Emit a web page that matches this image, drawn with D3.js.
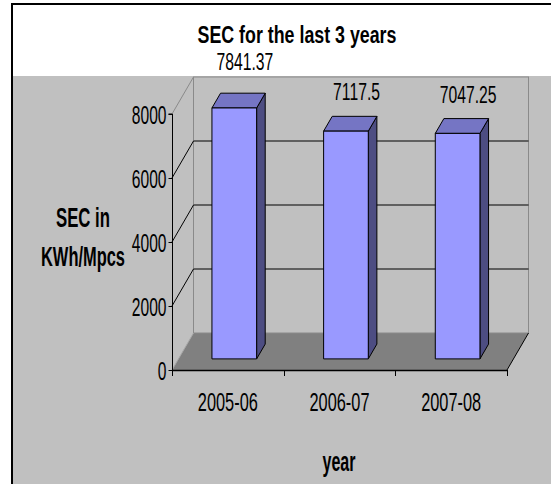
<!DOCTYPE html>
<html>
<head>
<meta charset="utf-8">
<script src="https://cdn.jsdelivr.net/npm/d3@7"></script>
<style>
  html, body { margin: 0; padding: 0; background: #ffffff; }
  svg { display: block; }
  text { font-family: "Liberation Sans", Arial, sans-serif; fill: #000; }
</style>
</head>
<body>
<svg id="chart" width="551" height="484"></svg>
<script>
// Data
const categories = ["2005-06", "2006-07", "2007-08"];
const secValues = [7841.37, 7117.5, 7047.25];
const valueLabels = ["7841.37", "7117.5", "7047.25"];
const yTicks = [0, 2000, 4000, 6000, 8000];
const chartTitle = "SEC for the last 3 years";
const yTitleLines = ["SEC in", "KWh/Mpcs"];
const xTitle = "year";

const svg = d3.select("#chart");

// Pseudo-3D geometry: front plane and a depth vector
const x0 = 172, x1 = 507, yBase = 370;
const DX = 21.5, DY = 37;
const barDepth0 = 0.3, barDepth1 = 0.7;
const bandTop = 76; // top of the gray plot band

const x = d3.scaleBand().domain(categories).range([x0, x1])
  .paddingInner(0.6).paddingOuter(0.3);
const xEdge = d3.scaleLinear().domain([0, categories.length]).range([x0, x1]);
const y = d3.scaleLinear().domain([0, 8000]).range([yBase, yBase - 256]);
const yMax = 8000;

// Narrow a text horizontally about its own anchor point.
// k is a factor, or width(d, i) gives the target width in pixels.
function squeeze(sel, k, width) {
  sel.each(function (d, i) {
    const t = d3.select(this);
    const ax = +t.attr("x") || 0, ay = +t.attr("y") || 0;
    const w = this.getComputedTextLength();
    const f = width ? width(d, i) / w : k;
    t.attr("transform", `translate(${ax},${ay}) scale(${f},1) translate(${-ax},${-ay})`);
  });
}

// Frame: white title band, gray plot band, black border on top/left
svg.append("rect").attr("x", 13).attr("y", bandTop).attr("width", 538).attr("height", 484 - bandTop)
  .attr("fill", "#c0c0c0");
svg.append("line").attr("x1", 12).attr("x2", 12).attr("y1", 3).attr("y2", 484)
  .attr("stroke", "#000").attr("stroke-width", 2);
svg.append("line").attr("x1", 11).attr("x2", 551).attr("y1", 4).attr("y2", 4)
  .attr("stroke", "#000").attr("stroke-width", 2);

const line = (a, b, color, w) => svg.append("line")
  .attr("x1", a[0]).attr("y1", a[1]).attr("x2", b[0]).attr("y2", b[1])
  .attr("stroke", color).attr("stroke-width", w || 1);

// Floor
const floorPts = [[x0, yBase], [x1, yBase], [x1 + DX, yBase - DY], [x0 + DX, yBase - DY]];
svg.append("polygon").attr("points", floorPts.map(p => p.join(",")).join(" "))
  .attr("fill", "#808080");

// Back wall and side wall edges
const backTop = y(yMax) - DY, backBottom = yBase - DY;
svg.append("rect").attr("x", x0 + DX).attr("y", backTop)
  .attr("width", x1 - x0).attr("height", backBottom - backTop)
  .attr("fill", "none").attr("stroke", "#8a8a8a");
line([x0, y(yMax)], [x0 + DX, backTop], "#8a8a8a");
line([x0, yBase], [x0 + DX, backBottom], "#a8a8a8");

// Gridlines on the back wall and the side wall
yTicks.filter(v => v > 0 && v < yMax).forEach(v => {
  line([x0 + DX, y(v) - DY], [x1 + DX, y(v) - DY], "#000");
  line([x0, y(v)], [x0 + DX, y(v) - DY], "#000");
});

// Floor right edge
line([x1, yBase], [x1 + DX, yBase - DY], "#000");

// Bars
const bdx = (barDepth1 - barDepth0) * DX, bdy = (barDepth1 - barDepth0) * DY;
const bw = x.bandwidth();
const bars = svg.append("g").selectAll("g").data(categories).join("g");
bars.each(function (c, i) {
  const g = d3.select(this);
  const bx = x(c) + barDepth0 * DX;
  const yb = yBase - barDepth0 * DY;
  const yt = y(secValues[i]) - barDepth0 * DY;
  const poly = (pts, fill) => g.append("polygon")
    .attr("points", pts.map(p => p.join(",")).join(" "))
    .attr("fill", fill).attr("stroke", "#000").attr("stroke-width", 1)
    .attr("stroke-linejoin", "round");
  poly([[bx + bw, yt], [bx + bw + bdx, yt - bdy], [bx + bw + bdx, yb - bdy], [bx + bw, yb]], "#4d4d82");
  poly([[bx, yt], [bx + bw, yt], [bx + bw + bdx, yt - bdy], [bx + bdx, yt - bdy]], "#7575c4");
  poly([[bx, yt], [bx + bw, yt], [bx + bw, yb], [bx, yb]], "#9999ff");
});

// Value labels above each bar; a label that would straddle the
// edge of the gray band is lifted clear of it into the white band.
function labelBaseline(v) {
  const b = y(v) - barDepth0 * DY - bdy - 16;
  return (b > bandTop - 4 && b - 18 < bandTop) ? bandTop - 6 : b;
}
svg.append("g").selectAll("text").data(categories).join("text")
  .attr("x", (c) => x(c) + barDepth0 * DX + bw / 2 + bdx + 2)
  .attr("y", (c, i) => labelBaseline(secValues[i]))
  .attr("text-anchor", "middle")
  .style("font-size", "24px")
  .text((c, i) => valueLabels[i])
  .call(squeeze, 0.655);

// Y axis on the front plane
const yAxis = d3.axisLeft(y).tickValues(yTicks).tickSize(4).tickPadding(2).tickFormat(d3.format("d"));
const gy = svg.append("g").attr("transform", `translate(${x0 + 0.5},0)`).call(yAxis);
gy.select(".domain").attr("stroke", "#000").attr("d", `M-4,${y(yMax)}H0V${yBase}`);
gy.selectAll(".tick line").attr("stroke", "#000");
gy.selectAll(".tick text").style("font-size", "26px").attr("dy", "0.36em")
  .style("font-family", '"Liberation Sans", Arial, sans-serif').call(squeeze, 0.6);

// X axis: boundary ticks and centred category labels
line([x0, yBase + 0.5], [x1, yBase + 0.5], "#000", 1.5);
d3.range(categories.length + 1).forEach(k => {
  line([Math.round(xEdge(k)) + 0.5, yBase], [Math.round(xEdge(k)) + 0.5, yBase + 6], "#000");
});
const xAxis = d3.axisBottom(x).tickSize(0).tickPadding(0);
const gx = svg.append("g").attr("transform", `translate(0,${yBase})`).call(xAxis);
gx.select(".domain").remove();
gx.selectAll(".tick text").attr("y", 41).attr("dy", null).style("font-size", "25px")
  .style("font-family", '"Liberation Sans", Arial, sans-serif').call(squeeze, 0.654);

// Titles
svg.append("text").attr("x", 297).attr("y", 43).attr("text-anchor", "middle")
  .style("font-size", "24px").style("font-weight", "bold").text(chartTitle)
  .call(squeeze, 0, () => 199);

const yTitleWidths = [54, 84];
svg.append("g").selectAll("text").data(yTitleLines).join("text")
  .attr("x", 83).attr("y", (d, i) => 227 + i * 39).attr("text-anchor", "middle")
  .style("font-size", "27px").style("font-weight", "bold").text(d => d)
  .call(squeeze, 0, (d, i) => yTitleWidths[i]);

svg.append("text").attr("x", 339).attr("y", 471).attr("text-anchor", "middle")
  .style("font-size", "27px").style("font-weight", "bold").text(xTitle)
  .call(squeeze, 0, () => 33);
</script>
</body>
</html>
